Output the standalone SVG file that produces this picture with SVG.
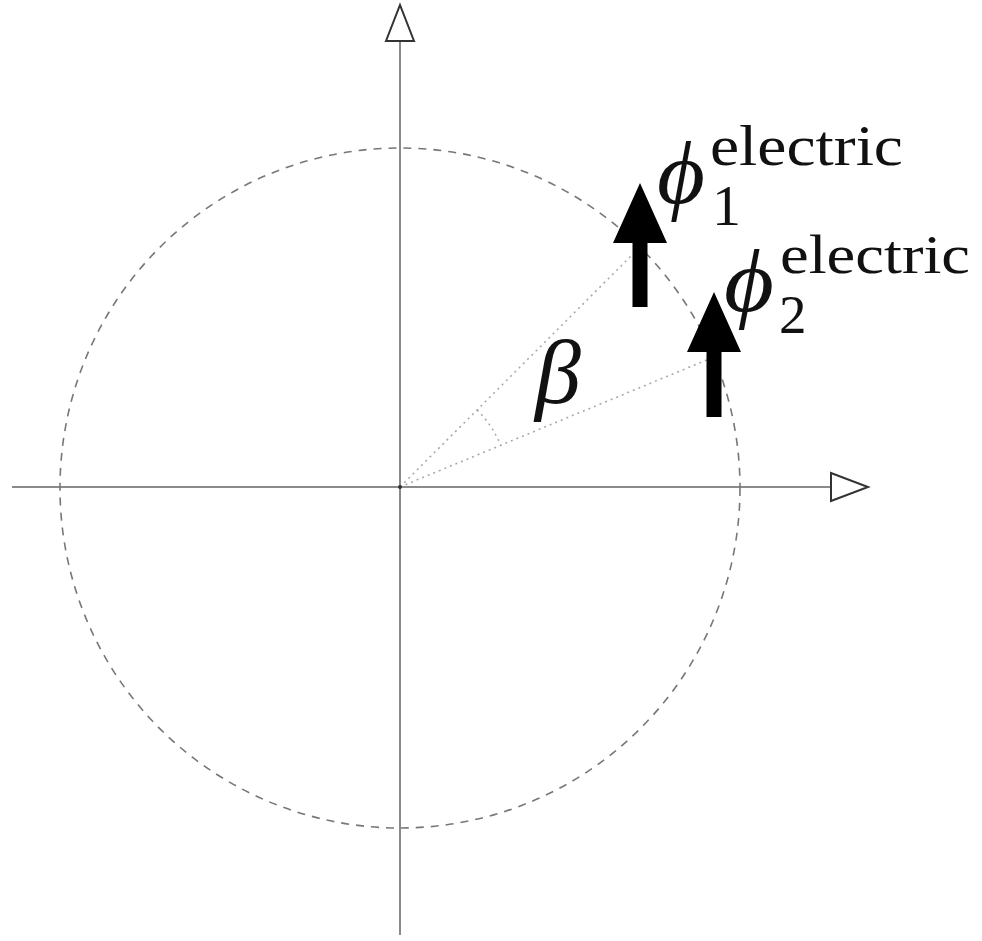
<svg xmlns="http://www.w3.org/2000/svg" width="982" height="941" viewBox="0 0 982 941">
<style>
.axis{stroke:#8a8a8a;stroke-width:2;fill:none}
.head{fill:#fff;stroke:#333;stroke-width:2;stroke-linejoin:miter}
.circ{fill:none;stroke:#777;stroke-width:1.6;stroke-dasharray:8 7}
.dot{fill:none;stroke:#aaa;stroke-width:1.6;stroke-dasharray:2 4}
.vec{fill:#000}
.t{font-family:"Liberation Serif","DejaVu Serif",serif;fill:#111}
.it{font-style:italic}
.sup{font-size:58px}
.sup2{font-size:55px}
.phi{font-size:88px}
</style>
<rect width="982" height="941" fill="#fff"/>
<g id="axes">
<line class="axis" x1="12" y1="487" x2="831" y2="487"/>
<line class="axis" x1="400" y1="935" x2="400" y2="41"/>
<polygon class="head" points="831,473 831,501 868,487"/>
<polygon class="head" points="386,41 414,41 400,5"/>
</g>
<g id="circle">
<circle class="circ" cx="400" cy="488" r="340"/>
</g>
<g id="connectors">
<line class="dot" x1="400" y1="487" x2="640.4" y2="246.6"/>
<line class="dot" x1="400" y1="487" x2="714.1" y2="356.9"/>
<path class="dot" d="M477.1,409.9 A109,109 0 0 1 500.7,445.3"/>
<circle cx="400" cy="487" r="2" fill="#333"/>
</g>
<g id="vec1">
<polygon class="vec" points="632.5,243 632.5,307 647.5,307 647.5,243 667,243 640,183 613,243"/>
</g>
<g id="vec2">
<polygon class="vec" points="706.5,352 706.5,417 721.5,417 721.5,352 741,352 714,292 687,352"/>
</g>
<g id="label1">
<text class="t it phi" x="657" y="203" textLength="48" lengthAdjust="spacingAndGlyphs">ϕ</text>
<text class="t sup" x="710" y="165" textLength="193" lengthAdjust="spacingAndGlyphs">electric</text>
<text class="t sup" x="712" y="225">1</text>
</g>
<g id="label2">
<text class="t it phi" x="724" y="311" textLength="50" lengthAdjust="spacingAndGlyphs">ϕ</text>
<text class="t sup2" x="780" y="273" textLength="190" lengthAdjust="spacingAndGlyphs">electric</text>
<text class="t sup2" x="779" y="333">2</text>
</g>
<g id="beta">
<text class="t it" x="535" y="403" font-size="92">β</text>
</g>
</svg>
